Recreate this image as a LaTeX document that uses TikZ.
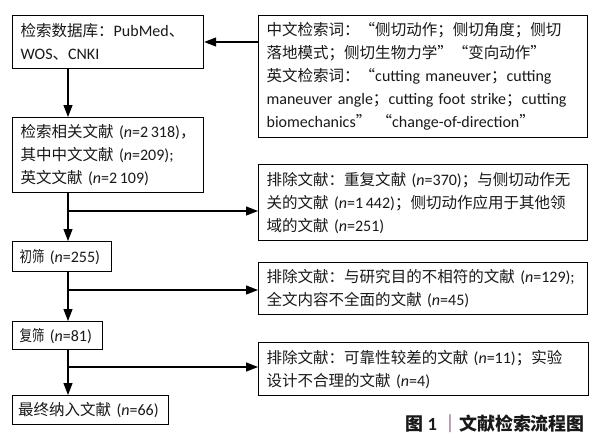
\documentclass[tikz,border=0pt]{standalone}
\usepackage{fontspec}
\setmainfont{Carlito}
\newfontfamily\zh[Scale=0.97]{Noto Sans CJK SC}
\newfontfamily\zhc[Scale=0.97,FakeStretch=0.8]{Noto Sans CJK SC}
\usetikzlibrary{arrows.meta}
\newcommand\zw[1]{{\zh #1}}
\newcommand\zwc[1]{{\zhc #1}}
\newcommand\vn{\textit{n}}
\definecolor{txt}{RGB}{25,25,25}
\definecolor{capbar}{RGB}{110,40,90}
\begin{document}
\begin{tikzpicture}[x=1pt,y=-1pt,
  box/.style={draw=black, line width=1.2pt, anchor=north west, inner xsep=8pt, inner ysep=0pt,
    align=left, font=\fontsize{16}{23}\selectfont, text=txt},
  arr/.style={line width=1.2pt, -{Triangle[length=12pt,width=9pt]}}]
\fill[white] (0,0) rectangle (599,439);
\useasboundingbox (0,0) rectangle (599,439);

% left column
\node[box, text width=175pt, minimum height=53pt] (b1) at (12,15)
  {\zw{检索数据库：}PubMed\zw{、}\\WOS\zw{、}CNKI};
\node[box, text width=175pt, minimum height=75pt] (b2) at (12,117)
  {\zw{检索相关文献} (\vn=2\,318)\zw{，}\\\zw{其中中文文献} (\vn=209);\\\zw{英文文献} (\vn=2\,109)};
\node[box, text width=85pt, inner xsep=7pt, minimum height=30pt] (b3) at (12,241)
  {\zwc{初筛} (\vn=255)};
\node[box, text width=76pt, inner xsep=7pt, minimum height=28pt] (b4) at (12,321)
  {\zwc{复筛} (\vn=81)};
\node[box, text width=145pt, inner xsep=5.5pt, minimum height=29pt] (b5) at (12,395)
  {\zw{最终纳入文献} (\vn=66)};

% right column
\node[box, text width=313pt, minimum height=122pt] (r1) at (258,15)
  {\zw{中文检索词：“侧切动作；侧切角度；侧切}\\
   \zw{落地模式；侧切生物力学”“变向动作”}\\
   \zw{英文检索词：“}cutting maneuver\zw{；}cutting\\
   maneuver angle\zw{；}cutting foot strike\zw{；}cutting\\
   biomechanics\zw{”} \zw{“}change-of-direction\zw{”}};
\node[box, text width=313pt, minimum height=76pt] (r2) at (258,164)
  {\zw{排除文献：重复文献} (\vn=370)\zw{；与侧切动作无}\\
   \zw{关的文献} (\vn=1\,442)\zw{；侧切动作应用于其他领}\\
   \zw{域的文献} (\vn=251)};
\node[box, text width=313pt, minimum height=52pt] (r3) at (258,262)
  {\zw{排除文献：与研究目的不相符的文献} (\vn=129);\\
   \zw{全文内容不全面的文献} (\vn=45)};
\node[box, text width=314pt, minimum height=53pt] (r4) at (258,342)
  {\zw{排除文献：可靠性较差的文献} (\vn=11)\zw{；实验}\\
   \zw{设计不合理的文献} (\vn=4)};

% caption
\node[anchor=east, inner sep=0pt, text=txt, font=\fontsize{18.5}{21}\selectfont\bfseries] (cap) at (585,424)
  {\zw{图} 1 {\color{capbar}\zw{｜}}\zw{文献检索流程图}};

% connectors
\coordinate (tx) at (68,0);
\coordinate (a1) at (0,42);
\coordinate (j1) at (68,211);
\coordinate (j2) at (68,290);
\coordinate (j3) at (68,367);

\draw[arr] (r1.west |- a1) -- (b1.east |- a1);
\draw[arr] (b1.south -| tx) -- (b2.north -| tx);
\draw[arr] (b2.south -| tx) -- (b3.north -| tx);
\draw[arr] (b3.south -| tx) -- (b4.north -| tx);
\draw[arr] (b4.south -| tx) -- (b5.north -| tx);
\draw[arr] (j1) -- (j1 -| r2.west);
\draw[arr] (j2) -- (j2 -| r3.west);
\draw[arr] (j3) -- (j3 -| r4.west);
\end{tikzpicture}
\end{document}
